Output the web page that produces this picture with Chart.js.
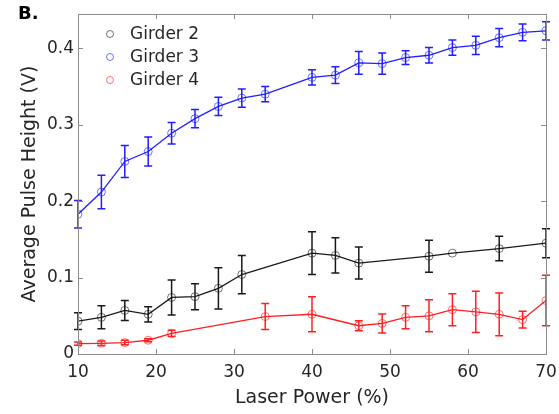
<!DOCTYPE html>
<html>
<head>
<meta charset="utf-8">
<script src="https://cdn.jsdelivr.net/npm/chart.js@4.4.1/dist/chart.umd.min.js"></script>
<style>
  html, body { margin: 0; padding: 0; background: #fff; }
  #wrap { width: 559px; height: 414px; }
</style>
</head>
<body>
<div id="wrap"><canvas id="myChart" width="559" height="414"></canvas></div>
<script>
// laser power (%) and average pulse height (V), with error bar half-widths
var xGirder2 = [10, 13, 16, 19, 22, 25, 28, 31, 40, 43, 46, 55, 58, 64, 70];
var yGirder2 = [0.043, 0.048, 0.057, 0.052, 0.074, 0.075, 0.086, 0.104, 0.132, 0.129, 0.119, 0.128, 0.132, 0.138, 0.145];
var eGirder2 = [0.011, 0.015, 0.013, 0.010, 0.023, 0.017, 0.027, 0.025, 0.028, 0.023, 0.021, 0.021, 0, 0.016, 0.019];

var xGirder3 = [10, 13, 16, 19, 22, 25, 28, 31, 34, 40, 43, 46, 49, 52, 55, 58, 61, 64, 67, 70];
var yGirder3 = [0.183, 0.212, 0.252, 0.265, 0.289, 0.308, 0.324, 0.335, 0.340, 0.362, 0.365, 0.381, 0.380, 0.388, 0.391, 0.401, 0.404, 0.414, 0.421, 0.423];
var eGirder3 = [0.018, 0.022, 0.021, 0.019, 0.014, 0.012, 0.012, 0.012, 0.010, 0.010, 0.011, 0.015, 0.014, 0.009, 0.010, 0.010, 0.012, 0.012, 0.011, 0.012];

var xGirder4 = [10, 13, 16, 19, 22, 34, 40, 46, 49, 52, 55, 58, 61, 64, 67, 70];
var yGirder4 = [0.0136, 0.014, 0.015, 0.018, 0.027, 0.049, 0.052, 0.037, 0.040, 0.048, 0.050, 0.058, 0.055, 0.052, 0.045, 0.070];
var eGirder4 = [0.002, 0.003, 0.003, 0.002, 0.004, 0.017, 0.023, 0.0065, 0.0125, 0.015, 0.021, 0.021, 0.027, 0.028, 0.011, 0.033];

var seriesNames = ["Girder 2", "Girder 3", "Girder 4"];
var xTicks = [10, 20, 30, 40, 50, 60, 70];
var yTicks = [0, 0.1, 0.2, 0.3, 0.4];

var lineColors = ["#1a1a1a", "#1f1fff", "#ff1f1f"];
var markColors = ["rgba(0,0,0,0.55)", "rgba(0,0,255,0.55)", "rgba(255,0,0,0.55)"];
var errs = [eGirder2, eGirder3, eGirder4];

function pts(xs, ys) {
  return xs.map(function (v, i) { return {x: v, y: ys[i]}; });
}

var allX = [xGirder2, xGirder3, xGirder4];
var allY = [yGirder2, yGirder3, yGirder4];
var datasets = seriesNames.map(function (name, i) {
  return {
    label: name,
    data: pts(allX[i], allY[i]),
    borderColor: lineColors[i],
    borderWidth: 1.3,
    pointRadius: 4,
    pointBorderWidth: 1,
    pointBorderColor: markColors[i],
    pointBackgroundColor: "rgba(0,0,0,0)",
    tension: 0,
    fill: false
  };
});

// error bars, box, inward ticks, legend and panel letter
var extras = {
  id: "extras",
  afterDatasetsDraw: function (chart) {
    var ctx = chart.ctx, a = chart.chartArea;
    var x = chart.scales.x, y = chart.scales.y;

    chart.data.datasets.forEach(function (ds, i) {
      ctx.save();
      ctx.strokeStyle = lineColors[i];
      ctx.lineWidth = 1.5;
      ds.data.forEach(function (p, j) {
        var e = errs[i][j];
        if (!e) return;
        var px = x.getPixelForValue(p.x);
        var top = y.getPixelForValue(p.y + e);
        var bot = y.getPixelForValue(p.y - e);
        ctx.beginPath();
        ctx.moveTo(px, top); ctx.lineTo(px, bot);
        ctx.moveTo(px - 4, top); ctx.lineTo(px + 4, top);
        ctx.moveTo(px - 4, bot); ctx.lineTo(px + 4, bot);
        ctx.stroke();
      });
      ctx.restore();
    });

    ctx.save();
    ctx.strokeStyle = "#8c8c8c";
    ctx.lineWidth = 1;
    ctx.strokeRect(Math.round(a.left) + 0.5, Math.round(a.top) + 0.5,
      Math.round(a.right - a.left), Math.round(a.bottom - a.top));
    ctx.beginPath();
    xTicks.forEach(function (v) {
      var px = Math.round(x.getPixelForValue(v)) + 0.5;
      ctx.moveTo(px, a.bottom); ctx.lineTo(px, a.bottom - 5);
      ctx.moveTo(px, a.top); ctx.lineTo(px, a.top + 5);
    });
    yTicks.forEach(function (v) {
      var py = Math.round(y.getPixelForValue(v)) + 0.5;
      ctx.moveTo(a.left, py); ctx.lineTo(a.left + 5, py);
      ctx.moveTo(a.right, py); ctx.lineTo(a.right - 5, py);
    });
    ctx.stroke();

    // legend
    ctx.font = "17px 'DejaVu Sans'";
    ctx.textBaseline = "middle";
    ctx.fillStyle = "#262626";
    seriesNames.forEach(function (name, i) {
      var ly = 34 + i * 23;
      ctx.beginPath();
      ctx.strokeStyle = markColors[i];
      ctx.arc(110, ly, 3.5, 0, Math.PI * 2);
      ctx.stroke();
      ctx.fillText(name, 130, ly + 1);
    });

    ctx.font = "bold 18px 'DejaVu Sans'";
    ctx.fillStyle = "#000";
    ctx.textBaseline = "alphabetic";
    ctx.fillText("B.", 18, 19);
    ctx.restore();
  }
};

new Chart("myChart", {
  type: "line",
  data: {datasets: datasets},
  plugins: [extras],
  options: {
    responsive: false,
    animation: false,
    layout: {padding: {top: 14, right: 13, left: 0, bottom: 0}},
    plugins: {legend: {display: false}, tooltip: {enabled: false}},
    scales: {
      x: {
        type: "linear",
        min: 10, max: 70,
        afterBuildTicks: function (s) { s.ticks = xTicks.map(function (v) { return {value: v}; }); },
        afterFit: function (s) { s.height = 60; s.paddingLeft = 0; s.paddingRight = 0; },
        grid: {display: false, drawTicks: false},
        border: {display: false},
        ticks: {color: "#262626", padding: 8, maxRotation: 0,
          font: {family: "DejaVu Sans", size: 17}},
        title: {display: true, text: "Laser Power (%)", color: "#262626",
          padding: {top: 0, bottom: 5}, font: {family: "DejaVu Sans", size: 19}}
      },
      y: {
        min: 0, max: 0.445,
        afterBuildTicks: function (s) { s.ticks = yTicks.map(function (v) { return {value: v}; }); },
        afterFit: function (s) { s.width = 78; s.paddingTop = 0; s.paddingBottom = 0; },
        grid: {display: false, drawTicks: false},
        border: {display: false},
        ticks: {color: "#262626", padding: 4,
          font: {family: "DejaVu Sans", size: 17},
          callback: function (v) { return String(+v.toFixed(2)); }},
        title: {display: true, text: "Average Pulse Height (V)", color: "#262626",
          padding: {top: 19, bottom: 0}, font: {family: "DejaVu Sans", size: 19}}
      }
    }
  }
});
</script>
</body>
</html>
